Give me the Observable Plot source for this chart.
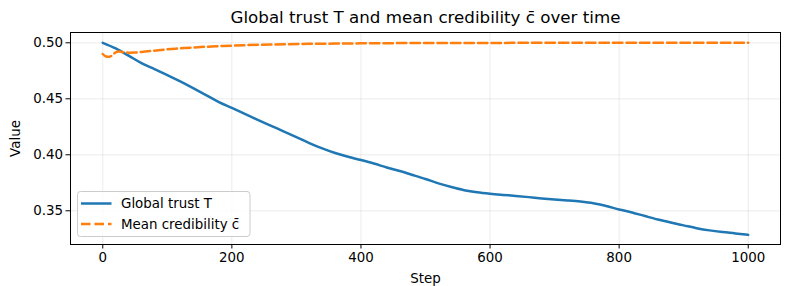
<!DOCTYPE html>
<html>
<head>
<meta charset="utf-8">
<script src="https://cdn.jsdelivr.net/npm/d3@7"></script>
<script src="https://cdn.jsdelivr.net/npm/@observablehq/plot@0.6"></script>
<style>
  html, body { margin: 0; padding: 0; background: #fff; }
  #chart svg { display: block; }
  #chart g[aria-label="x-axis tick label"],
  #chart g[aria-label="y-axis tick label"],
  #chart g[aria-label="x-axis label"],
  #chart g[aria-label="y-axis label"] { font-size: 13.4px; }
</style>
</head>
<body>
<div id="chart"></div>
<script>
const title = "Global trust T and mean credibility c\u0304 over time";
const xLabel = "Step";
const yLabel = "Value";
const seriesNames = ["Global trust T", "Mean credibility c\u0304"];
const xTicks = [0, 200, 400, 600, 800, 1000];
const yTicks = [0.35, 0.40, 0.45, 0.50];

const trustSteps = [0,20,40,60,80,100,120,140,160,180,200,220,240,260,280,300,320,340,360,380,400,420,440,460,480,500,520,540,560,580,600,620,640,660,680,700,720,740,760,780,800,820,840,860,880,900,920,940,960,980,1000];
const trustValues = [0.5000,0.4950,0.4885,0.4818,0.4765,0.4712,0.4655,0.4595,0.4533,0.4470,0.4418,0.4365,0.4312,0.4260,0.4210,0.4158,0.4105,0.4057,0.4016,0.3982,0.3953,0.3922,0.3887,0.3855,0.3820,0.3784,0.3745,0.3712,0.3684,0.3665,0.3652,0.3642,0.3633,0.3622,0.3610,0.3600,0.3592,0.3582,0.3567,0.3542,0.3512,0.3485,0.3453,0.3422,0.3395,0.3370,0.3345,0.3325,0.3310,0.3298,0.3285];

const credSteps = [0,5,10,15,20,25,30,40,50,60,80,100,120,140,160,180,200,240,280,320,360,400,450,500,600,700,800,900,1000];
const credValues = [0.4900,0.4878,0.4875,0.4890,0.4915,0.4922,0.4918,0.4912,0.4913,0.4918,0.4930,0.4942,0.4950,0.4958,0.4965,0.4970,0.4975,0.4982,0.4987,0.4991,0.4993,0.4995,0.4997,0.4998,0.4999,0.5000,0.5000,0.5000,0.5000];

const colors = ["#1f77b4", "#ff7f0e"];
const dash = "9.5,4";

const trust = trustSteps.map((s, i) => ({step: s, value: trustValues[i]}));
const cred = credSteps.map((s, i) => ({step: s, value: credValues[i]}));

const fontFamily = "'DejaVu Sans', sans-serif";
const tickFont = 13.4;

const plot = Plot.plot({
  width: 790,
  height: 286,
  marginLeft: 70,
  marginRight: 10,
  marginTop: 32,
  marginBottom: 42,
  style: {fontFamily, fontSize: tickFont + "px", color: "black", background: "white"},
  x: {domain: [-50, 1050]},
  y: {domain: [0.3199, 0.5092]},
  marks: [
    Plot.gridX(xTicks, {stroke: "#b0b0b0", strokeOpacity: 0.3, strokeWidth: 0.8}),
    Plot.gridY(yTicks, {stroke: "#b0b0b0", strokeOpacity: 0.3, strokeWidth: 0.8}),
    Plot.line(trust, {x: "step", y: "value", stroke: colors[0], strokeWidth: 2.5, curve: "monotone-x"}),
    Plot.line(cred, {x: "step", y: "value", stroke: colors[1], strokeWidth: 2.5, strokeDasharray: dash, curve: "monotone-x"}),
    Plot.axisX({ticks: xTicks, tickSize: 4.5, tickPadding: 3, tickFormat: d3.format("d"), label: xLabel, labelAnchor: "center", labelArrow: "none", labelOffset: 38}),
    Plot.axisY({ticks: yTicks, tickSize: 4.5, tickPadding: 3, tickFormat: d3.format(".2f"), label: yLabel, labelAnchor: "center", labelArrow: "none", labelOffset: 60}),
    Plot.frame({stroke: "black", strokeWidth: 1}),
    Plot.text([title], {frameAnchor: "top", dy: -15, lineAnchor: "middle", fontSize: 16.7, fill: "black"})
  ]
});

document.getElementById("chart").appendChild(plot);

// Legend (inside plot, lower left)
const svg = d3.select(plot);
const lg = svg.append("g").attr("font-family", fontFamily).attr("font-size", tickFont + "px").attr("text-anchor", "start");
lg.append("rect").attr("x", 77.5).attr("y", 191.5).attr("width", 172.5).attr("height", 45)
  .attr("rx", 3).attr("fill", "white").attr("fill-opacity", 0.8).attr("stroke", "#cccccc").attr("stroke-width", 1);
const rows = [203.5, 224];
seriesNames.forEach((name, i) => {
  lg.append("line").attr("x1", 81).attr("x2", 111.5).attr("y1", rows[i]).attr("y2", rows[i])
    .attr("stroke", colors[i]).attr("stroke-width", 2.5).attr("stroke-dasharray", i === 1 ? dash : null);
  lg.append("text").attr("x", 121).attr("y", rows[i]).attr("dy", "0.35em").attr("fill", "black").text(name);
});
</script>
</body>
</html>
